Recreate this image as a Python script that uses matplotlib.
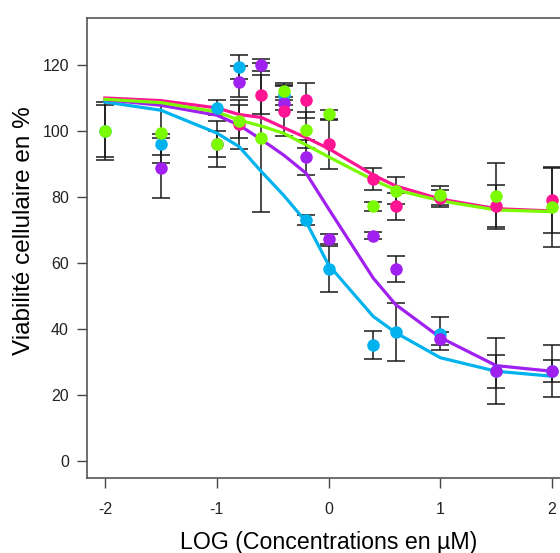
import numpy as np
import matplotlib
matplotlib.use("Agg")
import matplotlib.pyplot as plt

plt.rcParams['font.family'] = ['Liberation Sans', 'DejaVu Sans']
plt.rcParams['axes.unicode_minus'] = False

# fitted curves (values read at the dose points)
x_fit = [-2, -1.5, -1, -0.8, -0.6, -0.4, -0.2, 0, 0.4, 0.6, 1, 1.5, 2]
blue_fit = [108.8, 106.3, 99.4, 95.3, 87.7, 80.5, 72.5, 59.5, 43.9, 39, 31.4, 27.3, 25.8]
purple_fit = [109.5, 107.8, 104.8, 101.8, 97.4, 92.7, 87.2, 76.5, 55.5, 47.5, 37.5, 29, 27.3]
pink_fit = [110, 109.2, 107, 105, 104.1, 101, 98, 94.7, 86.7, 83.4, 79.4, 76.5, 75.8]
green_fit = [109.6, 108.6, 105.8, 103.3, 101.5, 99.3, 95.8, 92.2, 85.2, 82.2, 78.9, 76.1, 75.6]

# measured points: log dose, mean viability, error
blue_x = [-2, -1.5, -1, -0.8, -0.4, -0.2, 0, 0.4, 0.6, 1, 1.5, 2]
blue_y = [100, 96, 107, 119.3, 111, 73, 58.3, 35.3, 39.2, 38.6, 27.3, 27.3]
blue_err = [8, 3.2, 2.3, 3.6, 3, 1.5, 7, 4.2, 8.8, 5, 10, 7.9]

purple_x = [-1.5, -1, -0.8, -0.6, -0.4, -0.2, 0, 0.4, 0.6, 1, 1.5, 2]
purple_y = [88.8, 96, 114.9, 120, 108.4, 92, 67.2, 68.3, 58.3, 37.1, 27.3, 27.3]
purple_err = [9, 4, 4.7, 1.8, 2, 5.2, 1.5, 1.1, 4, 2, 5, 3.4]

pink_x = [-0.8, -0.6, -0.4, -0.2, 0, 0.4, 0.6, 1, 1.5, 2]
pink_y = [102, 111, 106, 109.3, 96, 85.5, 77.2, 79.6, 77.4, 79]
pink_err = [7.5, 6, 7.5, 5.3, 7.4, 3.2, 4, 2.7, 6.4, 9.8]

green_x = [-2, -1.5, -1, -0.8, -0.6, -0.4, -0.2, 0, 0.4, 0.6, 1, 1.5, 2]
green_y = [100, 99.3, 96, 103, 98, 112, 100.4, 105, 77.2, 82, 80.5, 80.3, 77]
green_err = [8.8, 9, 6.9, 5, 22.5, 2.5, 5.4, 1.5, 1.3, 4.2, 3, 10, 12]

series = [
    (blue_x, blue_y, blue_err, blue_fit, '#00B2EE'),
    (purple_x, purple_y, purple_err, purple_fit, '#A020F0'),
    (pink_x, pink_y, pink_err, pink_fit, '#FF1493'),
    (green_x, green_y, green_err, green_fit, '#7CFC00'),
]

# axes box: left 87px, bottom 478px, top 18px, right edge past the image
fig = plt.figure(figsize=(5.6, 5.53), dpi=100)
ax = fig.add_axes([87 / 560, 75 / 553, 483 / 560, 460 / 553])

for i, (x, y, err, fit, col) in enumerate(series):
    ax.errorbar(x, y, yerr=err, fmt='none', ecolor='#1a1a1a', elinewidth=1.1,
                capsize=6.8, capthick=1.1, zorder=2)
for i, (x, y, err, fit, col) in enumerate(series):
    ax.plot(x_fit, fit, '-', color=col, lw=2.3, zorder=3 + i)
for i, (x, y, err, fit, col) in enumerate(series):
    ax.plot(x, y, 'o', color=col, ms=8, mec=col, zorder=10 + i)

ax.set_xlim(-2.16, 2.16)
ax.set_ylim(-5, 134.2)
ax.set_xticks([-2, -1, 0, 1, 2])
ax.set_yticks([0, 20, 40, 60, 80, 100, 120])
ax.tick_params(axis='both', length=7, width=1, color='#444444',
               labelsize=11.5, labelcolor='#222222')
ax.tick_params(axis='x', pad=10)
ax.tick_params(axis='y', pad=6)
for sp in ax.spines.values():
    sp.set_color('#555555')
    sp.set_linewidth(1.2)

ax.set_xlabel('LOG (Concentrations en µM)', fontsize=16.7, va='center')
ax.xaxis.set_label_coords(0.5, -0.141)
ax.set_ylabel('Viabilité cellulaire en %', fontsize=17.5, va='center')
ax.yaxis.set_label_coords(-0.13, 0.538)

fig.savefig('out.png', dpi=100)
